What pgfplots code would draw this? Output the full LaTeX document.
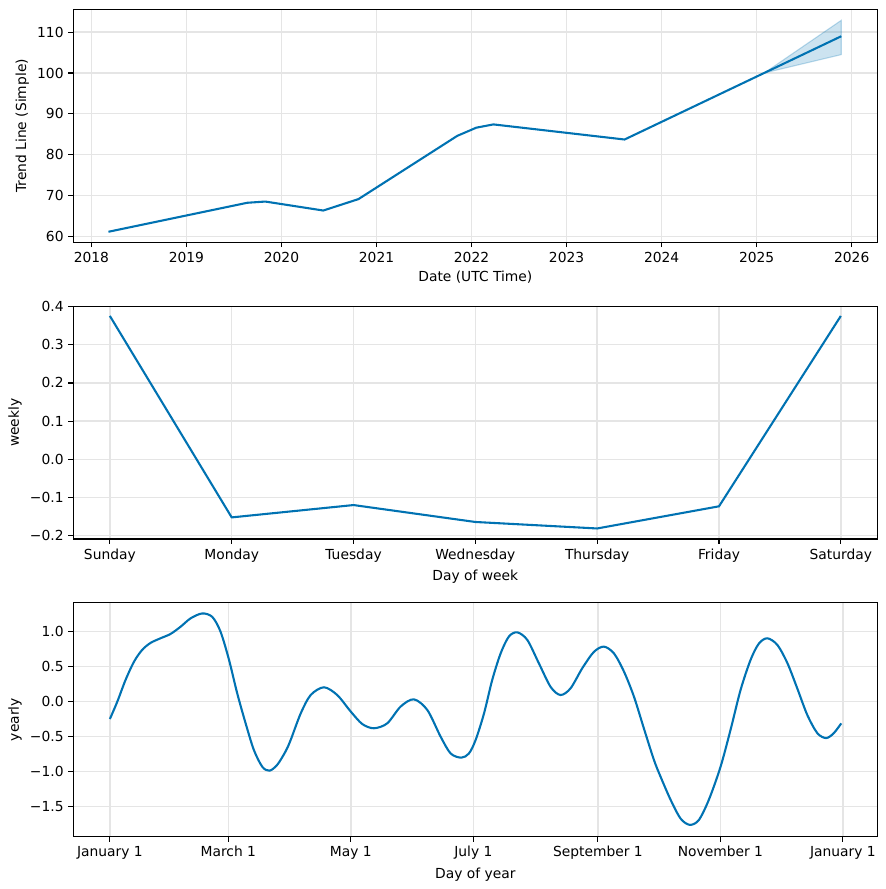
\documentclass[border=0pt]{standalone}
\usepackage{fontspec}
\setmainfont{DejaVu Sans}
\usepackage{pgfplots}
\pgfplotsset{compat=1.18}
\definecolor{pblue}{HTML}{0072B2}
\definecolor{gridc}{rgb}{0.9,0.9,0.9}
\pgfplotsset{
  comp/.style={
    scale only axis, width=578.9bp, anchor=north west,
    tick align=outside, tick pos=left,
    major tick length=3.5bp,
    every tick/.style={black, line width=0.8bp},
    axis line style={line width=0.8bp},
    grid=major,
    major grid style={line width=1bp, color=gridc},
    /pgf/number format/assume math mode=true,
    tick label style={font=\fontsize{10}{12}\selectfont},
    label style={font=\fontsize{10}{12}\selectfont},
    xlabel style={yshift=1bp},
    ylabel style={yshift=-1bp},
  },
  dline/.style={pblue, line width=1.5bp},
}
\begin{document}
\fontsize{10}{12}\selectfont
\begin{tikzpicture}[x=0.72bp,y=0.72bp]
\useasboundingbox (0,0) rectangle (886,-889);

% ---------------- trend ----------------
\begin{axis}[comp, at={(52.8bp,-6.7bp)}, height=167.8bp,
  xmin=2017.81, xmax=2026.27, ymin=58.5, ymax=115.6,
  xtick={2018,2019,2020,2021,2022,2023,2024,2025,2026},
  xticklabels={2018,2019,2020,2021,2022,2023,2024,2025,2026},
  ytick={60,70,80,90,100,110},
  yticklabels={60,70,80,90,100,110},
  xlabel={Date (UTC Time)}, ylabel={Trend Line (Simple)}]
\addplot[fill=pblue, fill opacity=0.2, draw=pblue, draw opacity=0.25, line width=0.8bp] coordinates {
 (2025.08,100.0) (2025.89,112.9) (2025.89,104.5) (2025.08,100.0)} -- cycle;
\addplot[dline] coordinates {
 (2018.18,61.1) (2019.64,68.2) (2019.83,68.5) (2020.44,66.3) (2020.81,69.1)
 (2021.85,84.6) (2022.05,86.6) (2022.23,87.4) (2023.61,83.7) (2025.89,109.0)};
\end{axis}

% ---------------- weekly ----------------
\begin{axis}[comp, at={(52.8bp,-220.5bp)}, height=167.6bp,
  xmin=-0.3, xmax=6.3, ymin=-0.2087, ymax=0.4008,
  xtick={0,1,2,3,4,5,6},
  xticklabels={Sunday,Monday,Tuesday,Wednesday,Thursday,Friday,Saturday},
  ytick={-0.2,-0.1,0,0.1,0.2,0.3,0.4},
  yticklabels={−0.2,−0.1,0.0,0.1,0.2,0.3,0.4},
  xlabel={Day of week}, ylabel={weekly}]
\addplot[dline] coordinates {
 (0,0.3754) (1,-0.152) (2,-0.1197) (3,-0.164) (4,-0.181) (5,-0.123) (6,0.3754)};
\end{axis}

% ---------------- yearly ----------------
\begin{axis}[comp, at={(52.8bp,-433.9bp)}, height=168.5bp,
  xmin=-18.2, xmax=382.2, ymin=-1.929, ymax=1.414,
  xtick={0,59,120,181,243,304,365},
  xticklabels={January 1,March 1,May 1,July 1,September 1,November 1,January 1},
  ytick={-1.5,-1,-0.5,0,0.5,1},
  yticklabels={−1.5,−1.0,−0.5,0.0,0.5,1.0},
  xlabel={Day of year}, ylabel={yearly}]
\addplot[dline, smooth, tension=0.5] coordinates {
 (0,-0.248) (3.7,0.0) (7.8,0.31) (12.0,0.57) (16.1,0.74) (20.3,0.84) (25.2,0.905)
 (30.2,0.967) (35.2,1.07) (40.2,1.19) (46.0,1.26) (51.0,1.21) (55.1,1.0) (59.3,0.60)
 (63.4,0.12) (67.6,-0.31) (71.7,-0.69) (75.9,-0.93) (79.5,-0.986) (83.4,-0.90)
 (87.5,-0.71) (90.0,-0.55) (95.0,-0.17) (100,0.095) (106.6,0.205) (113.2,0.095)
 (119.9,-0.14) (125.7,-0.32) (131.5,-0.38) (138.1,-0.31) (144.8,-0.07) (151.4,0.033)
 (158.1,-0.12) (164.7,-0.5) (169.7,-0.74) (175.0,-0.80) (178.8,-0.74) (182.1,-0.55)
 (186.3,-0.17) (190.4,0.31) (194.6,0.69) (198.7,0.93) (202.9,0.99) (207.9,0.88)
 (213.6,0.55) (219.5,0.21) (224.4,0.095) (229.4,0.19) (235.3,0.48) (241.0,0.71)
 (246.0,0.786) (251.0,0.69) (256.0,0.43) (261.0,0.07) (265.9,-0.38) (270.9,-0.83)
 (274.2,-1.07) (279.2,-1.40) (284.2,-1.67) (288.8,-1.76) (293.3,-1.69) (298.3,-1.40)
 (304.1,-0.93) (309.1,-0.40) (314.1,0.17) (319.1,0.60) (323.2,0.83) (327.4,0.905)
 (332.4,0.81) (337.4,0.55) (342.3,0.19) (347.3,-0.19) (352.3,-0.45) (356.7,-0.52)
 (360.5,-0.45) (364.2,-0.31)};
\end{axis}
\end{tikzpicture}
\end{document}
